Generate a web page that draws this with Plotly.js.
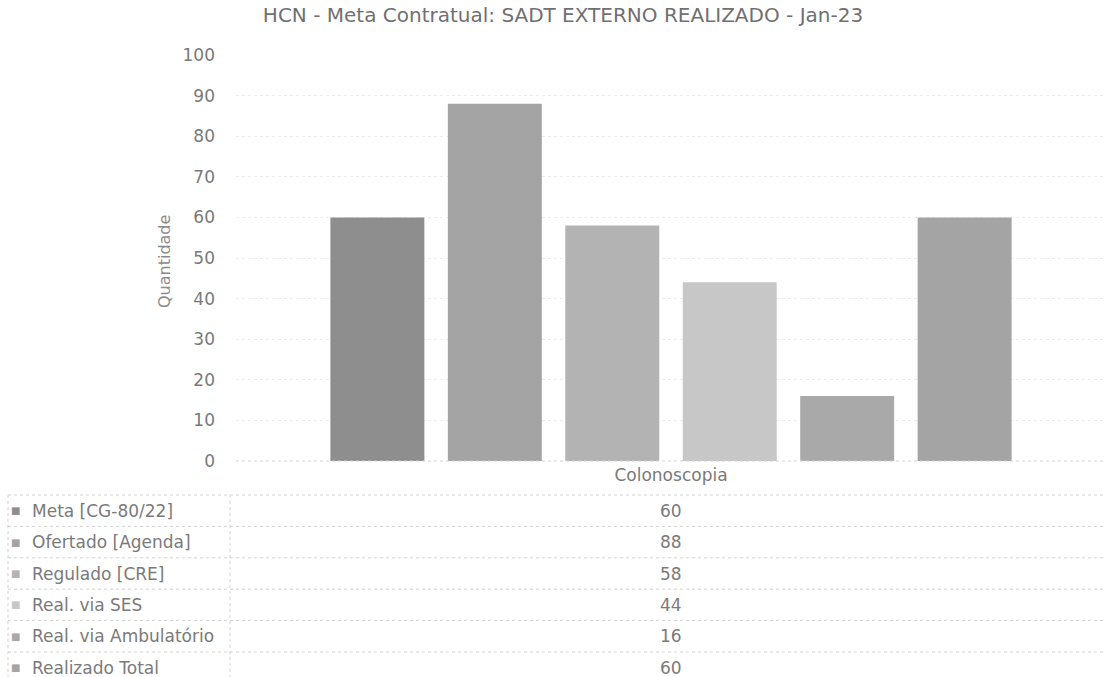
<!DOCTYPE html>
<html>
<head>
<meta charset="utf-8">
<script src="https://cdn.plot.ly/plotly-3.0.1.min.js"></script>
<style>html,body{margin:0;padding:0;background:#fff;}#chart{width:1111px;height:677px;}</style>
</head>
<body>
<div id="chart"></div>
<script>
// ---- data ----
const chartTitle = 'HCN - Meta Contratual: SADT EXTERNO REALIZADO - Jan-23';
const categories = ['Colonoscopia'];
const seriesNames = ['Meta [CG-80/22]', 'Ofertado [Agenda]', 'Regulado [CRE]', 'Real. via SES', 'Real. via Ambulatório', 'Realizado Total'];
const metaValues = [60];
const ofertadoValues = [88];
const reguladoValues = [58];
const sesValues = [44];
const ambulatorioValues = [16];
const totalValues = [60];
const seriesValues = [metaValues, ofertadoValues, reguladoValues, sesValues, ambulatorioValues, totalValues];
const seriesColors = ['#8e8e8e', '#a4a4a4', '#b3b3b3', '#c7c7c7', '#a9a9a9', '#a4a4a4'];
const yTickValues = [0, 10, 20, 30, 40, 50, 60, 70, 80, 90, 100];
const yTitle = 'Quantidade';

// ---- layout helpers (pixel geometry of the page) ----
const W = 1111, H = 677;
const M = {l: 236, r: 5, t: 55, b: 216};
const plotH = H - M.t - M.b, plotW = W - M.l - M.r;
const py = (ypx) => (H - M.b - ypx) / plotH;      // page px -> paper y
const px = (xpx) => (xpx - M.l) / plotW;          // page px -> paper x

const font = 'DejaVu Sans, Liberation Sans, Arial, sans-serif';
const textColor = '#7a7a7a';

const traces = seriesNames.map((name, i) => ({
  type: 'bar',
  name: name,
  x: categories,
  y: seriesValues[i],
  marker: {color: seriesColors[i], line: {width: 0}},
  hoverinfo: 'name+y'
}));

const shapes = [];
const annotations = [];
const rowTop = 495, rowH = 31.4;
const tableLeft = 8, tableSplit = 230, tableRight = 1106;
const lineStyle = {color: '#d2d2d2', width: 1, dash: 'dot'};

// horizontal separators of the data table
for (let i = 0; i < seriesNames.length; i++) {
  const y = py(rowTop + i * rowH);
  shapes.push({type: 'line', xref: 'paper', yref: 'paper', x0: px(tableLeft), x1: px(tableRight), y0: y, y1: y, line: lineStyle});
}
// vertical separators
[tableLeft, tableSplit].forEach(xv => {
  shapes.push({type: 'line', xref: 'paper', yref: 'paper', x0: px(xv), x1: px(xv), y0: py(rowTop), y1: py(H + 10), line: lineStyle});
});
// category axis baseline (dotted, like the reference)
shapes.push({type: 'line', xref: 'paper', yref: 'paper', x0: 0, x1: 1, y0: 0, y1: 0, line: lineStyle});

// table rows: legend key, series name, value
seriesNames.forEach((name, i) => {
  const yc = py(rowTop + i * rowH + rowH / 2);
  annotations.push({xref: 'paper', yref: 'paper', x: px(15), y: yc, xanchor: 'center', yanchor: 'middle',
    text: '■', showarrow: false, font: {family: font, size: 10, color: seriesColors[i]}});
  annotations.push({xref: 'paper', yref: 'paper', x: px(30), y: yc, xanchor: 'left', yanchor: 'middle',
    text: name, showarrow: false, font: {family: font, size: 17, color: textColor}});
  annotations.push({xref: 'x', yref: 'paper', x: categories[0], y: yc, xanchor: 'center', yanchor: 'middle',
    text: String(seriesValues[i][0]), showarrow: false, font: {family: font, size: 17, color: textColor}});
});

// y-axis title
annotations.push({xref: 'paper', yref: 'paper', x: px(164), y: py(262), xanchor: 'center', yanchor: 'middle',
  text: yTitle, textangle: -90, showarrow: false, font: {family: font, size: 16, color: '#8a8a8a'}});

const layout = {
  width: W, height: H,
  margin: M,
  paper_bgcolor: '#ffffff', plot_bgcolor: '#ffffff',
  showlegend: false,
  barmode: 'group',
  bargap: 0.19,
  bargroupgap: 0.2,
  title: {text: chartTitle, x: 563 / W, xref: 'container', xanchor: 'center', y: 1 - 15 / H, yref: 'container', yanchor: 'middle',
    font: {family: font, size: 20, color: '#707070'}},
  xaxis: {
    type: 'category',
    showgrid: false,
    showline: false,
    ticks: '', ticklabelstandoff: 2,
    tickfont: {family: font, size: 17, color: textColor},
    fixedrange: true
  },
  yaxis: {
    range: [0, 100],
    tickvals: yTickValues,
    ticktext: yTickValues.map(String),
    showgrid: true, gridcolor: '#ececec', gridwidth: 1, griddash: 'dot',
    zeroline: false, showline: false,
    ticks: '', ticklabelstandoff: 20,
    tickfont: {family: font, size: 17, color: textColor},
    fixedrange: true
  },
  shapes: shapes,
  annotations: annotations
};

Plotly.newPlot('chart', traces, layout, {displayModeBar: false, staticPlot: true});
</script>
</body>
</html>
